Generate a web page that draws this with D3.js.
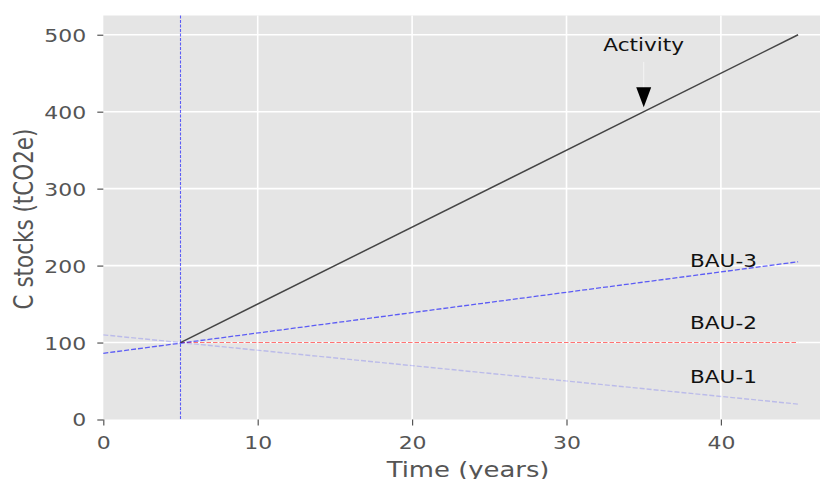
<!DOCTYPE html>
<html>
<head>
<meta charset="utf-8">
<script src="https://cdn.jsdelivr.net/npm/d3@7"></script>
<style>
  html, body { margin: 0; padding: 0; background: #ffffff; }
  svg { display: block; }
  text { font-family: "DejaVu Sans", sans-serif; }
</style>
</head>
<body>
<svg id="chart" width="820" height="479"></svg>
<script>
// ---- data ----
const xTicks = [0, 10, 20, 30, 40];
const yTicks = [0, 100, 200, 300, 400, 500];
const activityX = [5, 45];
const activityY = [100, 500];
const bau3X = [0, 45];
const bau3Y = [86, 205];
const bau2X = [5, 45];
const bau2Y = [100, 100];
const bau1X = [0, 45];
const bau1Y = [110, 20];
const startYear = [5];
const bauLabels = ["BAU-3", "BAU-2", "BAU-1"];
const bauLabelX = [38, 38, 38];
const bauLabelY = [198, 118, 48];
const activityLabel = "Activity";
const activityLabelXY = [35, 479];
const activityArrowTip = [35, 400];
const xLabel = "Time (years)";
const yLabel = "C stocks (tCO2e)";

(function () {
// ---- layout ----
const SX = 1.22; // horizontal stretch of the reference image
const svg = d3.select("#chart");
const pLeft = 103.3, pTop = 15.5, pBottom = 419.5;
const x = d3.scaleLinear().domain([0, 47.25]).range([pLeft, pLeft + 47.25 * 15.44]);
const y = d3.scaleLinear().domain([0, 525]).range([pBottom, pTop]);
const pRight = x.range()[1];

svg.append("rect")
  .attr("x", pLeft).attr("y", pTop)
  .attr("width", pRight - pLeft).attr("height", pBottom - pTop)
  .attr("fill", "#E5E5E5");

// grid
const grid = svg.append("g");
grid.selectAll("line.gx").data(xTicks.filter(d => d > 0)).enter().append("line")
  .attr("x1", d => x(d)).attr("x2", d => x(d))
  .attr("y1", pTop).attr("y2", pBottom)
  .attr("stroke", "#ffffff").attr("stroke-width", 1.6);
grid.selectAll("line.gy").data(yTicks.filter(d => d > 0)).enter().append("line")
  .attr("y1", d => y(d)).attr("y2", d => y(d))
  .attr("x1", pLeft).attr("x2", pRight)
  .attr("stroke", "#ffffff").attr("stroke-width", 1.6);

// axes
const xAxis = svg.append("g")
  .attr("transform", `translate(0,${pBottom})`)
  .call(d3.axisBottom(x).tickValues(xTicks).tickSize(6).tickFormat(d3.format("d")));
xAxis.select(".domain").remove();
xAxis.selectAll(".tick line").attr("stroke", "#555555").attr("stroke-width", 1.2);
xAxis.selectAll(".tick text")
  .attr("y", 30).attr("dy", null)
  .attr("transform", `scale(${SX},1)`)
  .attr("fill", "#555555").style("font-size", "18px");

const yAxis = svg.append("g")
  .attr("transform", `translate(${pLeft},0)`)
  .call(d3.axisLeft(y).tickValues(yTicks).tickSize(6).tickFormat(d3.format("d")));
yAxis.select(".domain").remove();
yAxis.selectAll(".tick line").attr("stroke", "#555555").attr("stroke-width", 1.2);
yAxis.selectAll(".tick text")
  .attr("x", -14).attr("dy", "0.36em")
  .attr("transform", `scale(${SX},1)`)
  .attr("fill", "#555555").style("font-size", "18px");

// axis labels
svg.append("text")
  .attr("transform", `translate(${(pLeft + pRight) / 2},477) scale(${SX},1)`)
  .attr("text-anchor", "middle")
  .attr("fill", "#555555").style("font-size", "21.2px")
  .text(xLabel);
svg.append("text")
  .attr("transform", `translate(33,${(pTop + pBottom) / 2 + 1.5}) rotate(-90) scale(1,${SX})`)
  .attr("text-anchor", "middle")
  .attr("fill", "#555555").style("font-size", "21.5px")
  .text(yLabel);

// lines
const line = d3.line().x(d => x(d[0])).y(d => y(d[1]));
const zip = (a, b) => a.map((v, i) => [v, b[i]]);

svg.append("path").datum(zip(bau1X, bau1Y)).attr("d", line)
  .attr("fill", "none").attr("stroke", "blue").attr("stroke-opacity", 0.18)
  .attr("stroke-width", 1.4).attr("stroke-dasharray", "5,2");
svg.append("path").datum(zip(bau2X, bau2Y)).attr("d", line)
  .attr("fill", "none").attr("stroke", "red").attr("stroke-opacity", 0.55)
  .attr("stroke-width", 1.1).attr("stroke-dasharray", "4.5,2");
svg.append("path").datum(zip(bau3X, bau3Y)).attr("d", line)
  .attr("fill", "none").attr("stroke", "blue").attr("stroke-opacity", 0.6)
  .attr("stroke-width", 1.3).attr("stroke-dasharray", "5,2");
svg.selectAll("line.vline").data(startYear).enter().append("line")
  .attr("x1", d => x(d)).attr("x2", d => x(d))
  .attr("y1", pTop).attr("y2", pBottom)
  .attr("stroke", "blue").attr("stroke-opacity", 0.6)
  .attr("stroke-width", 1.1).attr("stroke-dasharray", "3,1.5");
svg.append("path").datum(zip(activityX, activityY)).attr("d", line)
  .attr("fill", "none").attr("stroke", "#333333").attr("stroke-opacity", 0.9)
  .attr("stroke-width", 1.5);

// labels
svg.selectAll("text.bau").data(bauLabels).enter().append("text")
  .attr("transform", (d, i) => `translate(${x(bauLabelX[i])},${y(bauLabelY[i])}) scale(${SX},1)`)
  .attr("fill", "#111111").style("font-size", "17.7px")
  .text(d => d);

// activity annotation
const ax = x(activityLabelXY[0]), ay = y(activityLabelXY[1]);
svg.append("text")
  .attr("transform", `translate(${ax},${ay}) scale(${SX},1)`)
  .attr("text-anchor", "middle")
  .attr("fill", "#111111").style("font-size", "17.7px")
  .text(activityLabel);
const tipX = x(activityArrowTip[0]), tipY = y(activityArrowTip[1]) - 4.5;
svg.append("line")
  .attr("x1", tipX).attr("x2", tipX)
  .attr("y1", ay + 11).attr("y2", tipY - 18)
  .attr("stroke", "#f4f4f4").attr("stroke-width", 1);
svg.append("path")
  .attr("d", `M${tipX - 7.5},${tipY - 20} L${tipX + 7.5},${tipY - 20} L${tipX},${tipY} Z`)
  .attr("fill", "#000000");
})();
</script>
</body>
</html>
